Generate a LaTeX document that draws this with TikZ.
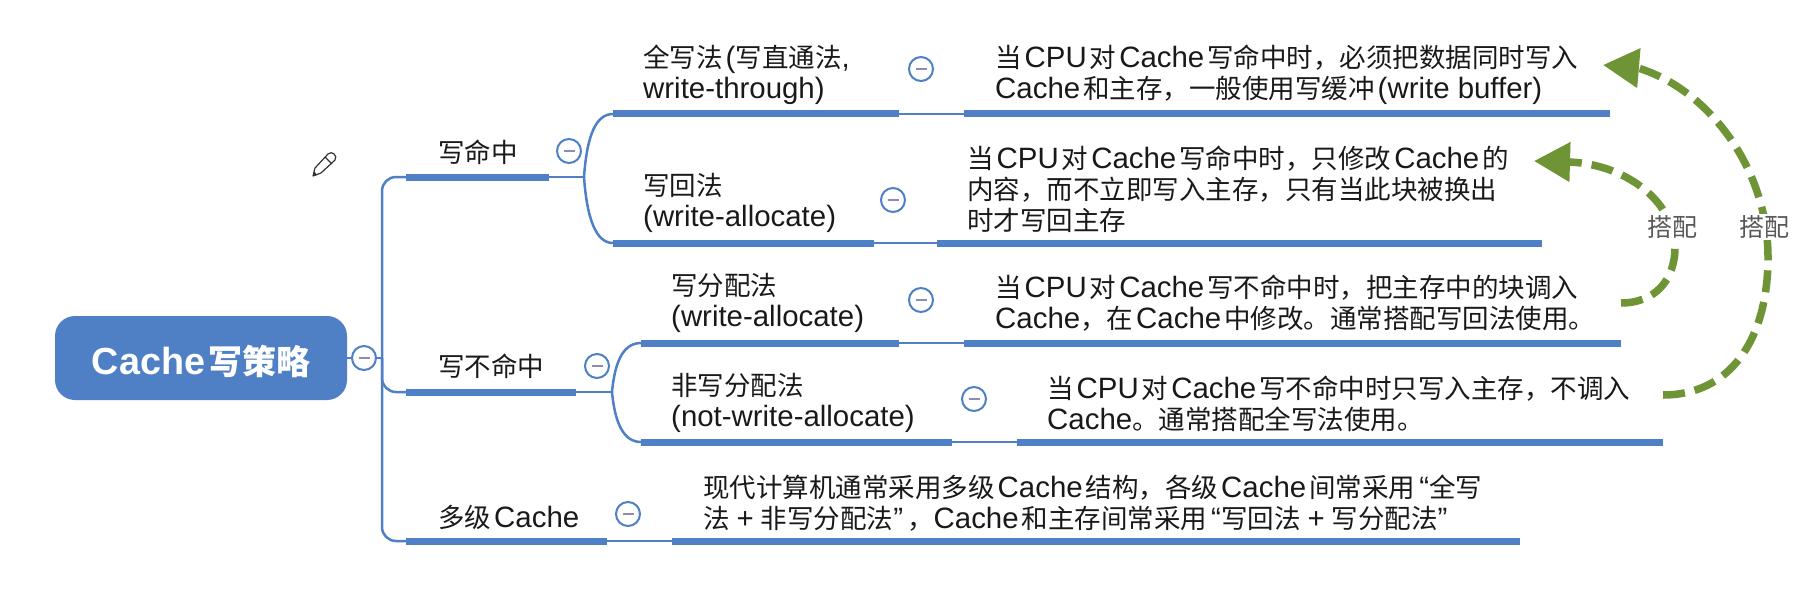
\documentclass[tikz,border=0pt]{standalone}
\usepackage{fontspec}
\usetikzlibrary{arrows.meta}
\setmainfont{Noto Sans CJK SC}
\newfontfamily\la[Scale=1.11]{Liberation Sans}
\newcommand{\lat}[1]{{\la #1}}
\newcommand{\gp}{\kern3pt\relax}
\newcommand{\pl}{\kern7pt\lat{+}\kern7pt\relax}
\definecolor{mblue}{HTML}{4F80C6}
\definecolor{mgreen}{HTML}{6F9436}
\definecolor{mgray}{HTML}{8C8CB0}
\tikzset{
  txt/.style={anchor=west,align=left,inner sep=0pt,text=black!90,font=\fontsize{26.5}{31}\selectfont},
  bar/.style={anchor=west,fill=mblue,inner sep=0pt,minimum height=7pt,minimum width=#1},
  link/.style={draw=mblue,line width=2.5pt},
  fold/.style={circle,draw=mblue,line width=2pt,fill=white,minimum size=24pt,inner sep=0pt,
    path picture={\draw[mgray,line width=2pt]
      ([xshift=-5.5pt]path picture bounding box.center) -- ([xshift=5.5pt]path picture bounding box.center);}},
  match/.style={draw=mgreen,line width=7.5pt,dash pattern=on 22pt off 10pt,
    -{Triangle[length=36pt,width=38pt,fill=mgreen]}},
  matchlab/.style={fill=white,inner sep=2pt,text=black!65,font=\fontsize{25}{28}\selectfont}
}
\begin{document}
\begin{tikzpicture}[x=1pt,y=-1pt]
\useasboundingbox (0,0) rectangle (1810,599);
% root
\node[fill=mblue,rounded corners=20pt,minimum width=292pt,minimum height=84pt,inner sep=0pt] (root) at (201,358) {};
\node[text=white,inner sep=0pt,font=\fontsize{34}{36}\selectfont\bfseries] (rootlab) at (201,361) {\lat{Cache}\gp 写策略};
% bars
\node[bar=143pt] (b1) at (406,177) {};
\node[bar=170pt] (b2) at (406,392) {};
\node[bar=201pt] (b3) at (406,541) {};
\node[bar=286pt] (a1) at (613,114) {};
\node[bar=261pt] (a2) at (613,243) {};
\node[bar=258pt] (a3) at (641,343) {};
\node[bar=311pt] (a4) at (641,442) {};
\node[bar=646pt] (c1) at (964,114) {};
\node[bar=605pt] (c2) at (937,243) {};
\node[bar=657pt] (c3) at (964,343) {};
\node[bar=646pt] (c4) at (1017,442) {};
\node[bar=848pt] (c5) at (672,541) {};
\coordinate (trunk) at (382,358);
\coordinate (j1) at (584,177);
\coordinate (j2) at (612,392);
% connectors
\draw[link] (root.east |- trunk) -- (trunk);
\draw[link,rounded corners=14pt] (b1.west) -| (trunk) |- (b3.west);
\draw[link,rounded corners=14pt] (trunk) |- (b2.west);
\draw[link] (b1.east) -- (j1);
\draw[link] (b2.east) -- (j2);
\draw[link] (j1) .. controls (587,135) and (596,114) .. (a1.west);
\draw[link] (j1) .. controls (587,219) and (596,243) .. (a2.west);
\draw[link] (j2) .. controls (615,360) and (624,343) .. (a3.west);
\draw[link] (j2) .. controls (615,424) and (624,442) .. (a4.west);
\draw[link] (a1.east) -- (c1.west);
\draw[link] (a2.east) -- (c2.west);
\draw[link] (a3.east) -- (c3.west);
\draw[link] (a4.east) -- (c4.west);
\draw[link] (b3.east) -- (c5.west);
% fold markers
\node[fold] (f0) at (364,358) {};
\node[fold] (f1) at (569,151) {};
\node[fold] (f2) at (597,366) {};
\node[fold] (f3) at (628,514) {};
\node[fold] (f4) at (921,69) {};
\node[fold] (f5) at (893,200) {};
\node[fold] (f6) at (921,300) {};
\node[fold] (f7) at (974,399) {};
% texts
\node[txt] (t1) at (438,152) {写命中};
\node[txt] (t2) at (438,366) {写不命中};
\node[txt] (t3) at (438,517) {多级\gp\lat{Cache}};
\node[txt] (u1) at (643,75) {全写法\gp\lat{(}写直通法\lat{,}\\\lat{write-through)}};
\node[txt] (u2) at (643,203) {写回法\\\lat{(write-allocate)}};
\node[txt] (u3) at (671,303) {写分配法\\\lat{(write-allocate)}};
\node[txt] (u4) at (671,403) {非写分配法\\\lat{(not-write-allocate)}};
\node[txt] (v1) at (995,75) {当\gp\lat{CPU}\gp 对\gp\lat{Cache}\gp 写命中时，必须把数据同时写入\\\lat{Cache}\gp 和主存，一般使用写缓冲\gp\lat{(write buffer)}};
\node[txt] (v2) at (967,189) {当\gp\lat{CPU}\gp 对\gp\lat{Cache}\gp 写命中时，只修改\gp\lat{Cache}\gp 的\\内容，而不立即写入主存，只有当此块被换出\\时才写回主存};
\node[txt] (v3) at (995,303) {当\gp\lat{CPU}\gp 对\gp\lat{Cache}\gp 写不命中时，把主存中的块调入\\\lat{Cache}，在\gp\lat{Cache}\gp 中修改。通常搭配写回法使用。};
\node[txt] (v4) at (1047,404) {当\gp\lat{CPU}\gp 对\gp\lat{Cache}\gp 写不命中时只写入主存，不调入\\\lat{Cache}。通常搭配全写法使用。};
\node[txt] (v5) at (703,503) {现代计算机通常采用多级\gp\lat{Cache}\gp 结构，各级\gp\lat{Cache}\gp 间常采用\kern4pt\lat{“}全写\\法\pl 非写分配法\lat{”}\kern4pt，\lat{Cache}\gp 和主存间常采用\kern4pt\lat{“}写回法\pl 写分配法\lat{”}};
% matching arrows
\coordinate (s1) at (1663,395);
\coordinate (r1) at (1768,257);
\coordinate (h1) at (1638,68);
\coordinate (e1) at (1603,65);
\coordinate (s2) at (1621,303);
\coordinate (r2) at (1675,247);
\coordinate (h2) at (1570,162);
\coordinate (e2) at (1534,161);
\draw[match] (s1) .. controls (1730,395) and (1768,340) .. (r1) .. controls (1768,170) and (1710,90) .. (h1) -- (e1);
\draw[match] (s2) .. controls (1655,303) and (1675,280) .. (r2) .. controls (1675,205) and (1630,165) .. (h2) -- (e2);
\node[matchlab] (l1) at (1672,227) {搭配};
\node[matchlab] (l2) at (1764,227) {搭配};
% pencil
\draw[black!80,line width=1.2pt,line join=round,fill=white]
  (313,176) -- (321,173) -- (335,160) .. controls (338,156) and (332,150) .. (328,154) -- (315,168) -- cycle;
\draw[black!80,line width=1.2pt] (325,157) -- (332,164);
\fill[black!80] (313,176) -- (317,175) -- (314,171) -- cycle;
\end{tikzpicture}
\end{document}
